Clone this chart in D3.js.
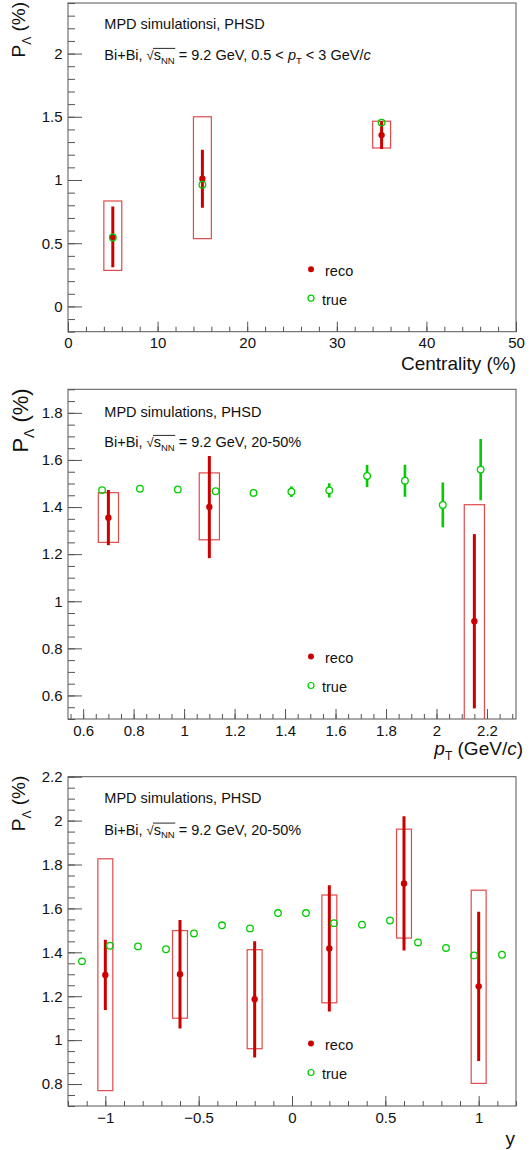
<!DOCTYPE html>
<html><head><meta charset="utf-8">
<script src="https://cdn.jsdelivr.net/npm/d3@7"></script>
<style>
body{margin:0;background:#fff}
svg{display:block}
text{font-family:"Liberation Sans",Arial,Helvetica,sans-serif;fill:#111;white-space:pre}
</style>
</head><body><svg id="c" width="532" height="1150"></svg>
<script>
// ---------- Panel 1: vs centrality ----------
const centX = [5, 15, 35];
const centRecoY = [0.55, 1.01, 1.355];
const centRecoErr = [0.24, 0.23, 0.11];
const centSysLo = [0.285, 0.536, 1.253];
const centSysHi = [0.834, 1.50, 1.465];
const centTrueY = [0.545, 0.963, 1.454];
const centTrueErr = [0.01, 0.012, 0.012];
const centXTicks = [0, 10, 20, 30, 40, 50];
const centYTicks = [0, 0.5, 1, 1.5, 2];

// ---------- Panel 2: vs pT ----------
const ptTrueX = [0.675, 0.825, 0.975, 1.125, 1.275, 1.425, 1.575, 1.725, 1.875, 2.025, 2.175];
const ptTrueY = [1.472, 1.478, 1.475, 1.467, 1.460, 1.465, 1.471, 1.532, 1.512, 1.409, 1.559];
const ptTrueErr = [0.004, 0.005, 0.006, 0.010, 0.015, 0.022, 0.030, 0.047, 0.068, 0.095, 0.130];
const ptRecoX = [0.70, 1.10, 2.15];
const ptRecoY = [1.355, 1.40, 0.915];
const ptRecoErr = [0.117, 0.217, 0.37];
const ptSysLo = [1.25, 1.261, 0.42];
const ptSysHi = [1.461, 1.545, 1.41];
const ptXTicks = [0.6, 0.8, 1, 1.2, 1.4, 1.6, 1.8, 2, 2.2];
const ptYTicks = [0.6, 0.8, 1, 1.2, 1.4, 1.6, 1.8];

// ---------- Panel 3: vs rapidity ----------
const yTrueX = [-1.125, -0.975, -0.825, -0.675, -0.525, -0.375, -0.225, -0.075, 0.075, 0.225, 0.375, 0.525, 0.675, 0.825, 0.975, 1.125];
const yTrueY = [1.359, 1.430, 1.427, 1.414, 1.486, 1.523, 1.509, 1.579, 1.579, 1.533, 1.526, 1.545, 1.445, 1.420, 1.386, 1.389];
const yTrueErr = [0.014, 0.014, 0.013, 0.013, 0.013, 0.013, 0.014, 0.014, 0.014, 0.014, 0.013, 0.013, 0.013, 0.013, 0.014, 0.014];
const yRecoX = [-1.0, -0.6, -0.2, 0.2, 0.6, 1.0];
const yRecoY = [1.297, 1.30, 1.186, 1.418, 1.714, 1.245];
const yRecoErr = [0.16, 0.247, 0.265, 0.287, 0.306, 0.34];
const ySysLo = [0.770, 1.100, 0.961, 1.170, 1.465, 0.803];
const ySysHi = [1.826, 1.499, 1.412, 1.661, 1.961, 1.683];
const yXTicks = [-1, -0.5, 0, 0.5, 1];
const yYTicks = [0.8, 1, 1.2, 1.4, 1.6, 1.8, 2, 2.2];

const legendLabels = [" reco", "true"];

const svg = d3.select("#c");
const L = 68, R = 516;
const RED = "#cc0000", BOX = "#e04a4a", GREEN = "#00cc00", AX = "#555";

function rich(parent, x, y, segs, anchor) {
  const g = parent.append("g");
  let cx = 0; const pos = [];
  segs.forEach(s => {
    const t = g.append("text").attr("x", cx).attr("y", s.dy || 0)
      .attr("font-size", s.size).text(s.t);
    if (s.italic) t.attr("font-style", "italic");
    const w = t.node().getComputedTextLength();
    pos.push([cx, cx + w]);
    cx += w;
  });
  const off = anchor === "end" ? -cx : 0;
  g.attr("transform", `translate(${x + off},${y})`);
  return { g, pos, width: cx };
}

function minorTicks(dom, step) {
  const a = Math.ceil(dom[0] / step - 1e-9), b = Math.floor(dom[1] / step + 1e-9);
  return d3.range(a, b + 1).map(i => +(i * step).toFixed(6));
}

const fmt = d => d3.format("~g")(d);

function panel(p, idx) {
  const x = d3.scaleLinear().domain(p.xDom).range([L, R]);
  const y = d3.scaleLinear().domain(p.yDom).range([p.bottom, p.top]);
  const g = svg.append("g");
  const cid = "clip" + idx;
  g.append("clipPath").attr("id", cid).append("rect")
    .attr("x", L).attr("y", p.top).attr("width", R - L).attr("height", p.bottom - p.top);

  const styleAxis = s => { s.select(".domain").remove(); s.selectAll("line").attr("stroke", AX); };
  g.append("g").attr("transform", `translate(${L},0)`)
    .call(d3.axisLeft(y).tickValues(minorTicks(p.yDom, p.yMinor)).tickSize(-7).tickFormat(""))
    .call(styleAxis);
  g.append("g").attr("transform", `translate(${L},0)`)
    .call(d3.axisLeft(y).tickValues(p.yTicks).tickSize(-14).tickPadding(5.5).tickFormat(fmt))
    .call(styleAxis)
    .attr("font-size", 15).attr("font-family", null)
    .selectAll("text").attr("fill", "#111");
  g.append("g").attr("transform", `translate(0,${p.bottom})`)
    .call(d3.axisBottom(x).tickValues(minorTicks(p.xDom, p.xMinor)).tickSize(-5).tickFormat(""))
    .call(styleAxis);
  g.append("g").attr("transform", `translate(0,${p.bottom})`)
    .call(d3.axisBottom(x).tickValues(p.xTicks).tickSize(-10).tickPadding(6).tickFormat(fmt))
    .call(styleAxis)
    .attr("font-size", 15).attr("font-family", null)
    .selectAll("text").attr("fill", "#111");

  g.append("rect").attr("x", L).attr("y", p.top).attr("width", R - L).attr("height", p.bottom - p.top)
    .attr("fill", "none").attr("stroke", AX).attr("stroke-width", 1);

  const d = g.append("g").attr("clip-path", `url(#${cid})`);
  d.selectAll(".box").data(p.recoX).join("rect")
    .attr("x", (v) => x(v - p.boxHalf))
    .attr("width", (v) => x(v + p.boxHalf) - x(v - p.boxHalf))
    .attr("y", (v, i) => y(p.sysHi[i]))
    .attr("height", (v, i) => y(p.sysLo[i]) - y(p.sysHi[i]))
    .attr("fill", "none").attr("stroke", BOX).attr("stroke-width", 1.2);
  d.selectAll(".rerr").data(p.recoX).join("line")
    .attr("x1", v => x(v)).attr("x2", v => x(v))
    .attr("y1", (v, i) => y(p.recoY[i] + p.recoErr[i]))
    .attr("y2", (v, i) => y(p.recoY[i] - p.recoErr[i]))
    .attr("stroke", RED).attr("stroke-width", 3);
  d.selectAll(".rpt").data(p.recoX).join("circle")
    .attr("cx", v => x(v)).attr("cy", (v, i) => y(p.recoY[i])).attr("r", 3.2)
    .attr("fill", RED);
  const rT = 3.3;
  p.trueX.forEach((v, i) => {
    const cx = x(v), cy = y(p.trueY[i]);
    const yt = y(p.trueY[i] + p.trueErr[i]), yb = y(p.trueY[i] - p.trueErr[i]);
    if (cy - yt > rT) d.append("line").attr("x1", cx).attr("x2", cx).attr("y1", yt).attr("y2", cy - rT)
      .attr("stroke", GREEN).attr("stroke-width", 2.6);
    if (yb - cy > rT) d.append("line").attr("x1", cx).attr("x2", cx).attr("y1", cy + rT).attr("y2", yb)
      .attr("stroke", GREEN).attr("stroke-width", 2.6);
  });
  d.selectAll(".tpt").data(p.trueX).join("circle")
    .attr("cx", v => x(v)).attr("cy", (v, i) => y(p.trueY[i])).attr("r", rT)
    .attr("fill", "none").attr("stroke", GREEN).attr("stroke-width", 1.3);

  const ly1 = p.bottom - 62.5, ly2 = p.bottom - 33.5;
  g.append("circle").attr("cx", 311).attr("cy", ly1).attr("r", 3).attr("fill", RED);
  g.append("text").attr("x", 321).attr("y", ly1 + 6.3).attr("font-size", 14.5).text(legendLabels[0]);
  g.append("circle").attr("cx", 311).attr("cy", ly2).attr("r", 3).attr("fill", "none")
    .attr("stroke", GREEN).attr("stroke-width", 1.2);
  g.append("text").attr("x", 322).attr("y", ly2 + 6.5).attr("font-size", 14.5).text(legendLabels[1]);

  rich(g, 104.3, p.top + p.t1, [{ t: p.title, size: 14.5 }]);
  const segs = [{ t: "Bi+Bi, ", size: 14.5 }, { t: "\u221A", size: 13 }, { t: "s", size: 14.5 },
    { t: "NN", size: 9.5, dy: 3.5 }].concat(p.line2);
  const r2 = rich(g, 104.3, p.top + p.t2, segs);
  r2.g.append("line").attr("x1", r2.pos[1][1] - 0.8).attr("x2", r2.pos[3][1] + 0.5)
    .attr("y1", -11.6).attr("y2", -11.6).attr("stroke", "#111").attr("stroke-width", 0.9);

  const yt = g.append("g").attr("transform", `translate(${p.yTitleX},${p.top - 1}) rotate(-90)`);
  const fs = p.yTitleSize;
  rich(yt, 0, 0, [{ t: "P", size: fs }, { t: "\u039B", size: fs * 0.63, dy: fs * 0.29 }, { t: " (%)", size: fs }], "end");

  rich(g, p.xTitleRight, p.xTitleY, p.xTitle, "end");
}

const panels = [
  { top: 3, bottom: 331.7, xDom: [0, 50], yDom: [-0.2, 2.4], xTicks: centXTicks, yTicks: centYTicks,
    xMinor: 2, yMinor: 0.1, boxHalf: 1,
    recoX: centX, recoY: centRecoY, recoErr: centRecoErr, sysLo: centSysLo, sysHi: centSysHi,
    trueX: centX, trueY: centTrueY, trueErr: centTrueErr,
    title: "MPD simulationsi, PHSD", t1: 26.3, t2: 57,
    line2: [{ t: " = 9.2 GeV, 0.5 < ", size: 14.5 }, { t: "p", size: 14.5, italic: true },
      { t: "T", size: 9.5, dy: 4 }, { t: " < 3 GeV/", size: 14.5 }, { t: "c", size: 14.5, italic: true }],
    yTitleSize: 19, yTitleX: 25,
    xTitle: [{ t: "Centrality (%)", size: 19 }], xTitleRight: 516, xTitleY: 370 },
  { top: 389.3, bottom: 719, xDom: [0.54, 2.315], yDom: [0.5, 1.9], xTicks: ptXTicks, yTicks: ptYTicks,
    xMinor: 0.05, yMinor: 0.05, boxHalf: 0.04,
    recoX: ptRecoX, recoY: ptRecoY, recoErr: ptRecoErr, sysLo: ptSysLo, sysHi: ptSysHi,
    trueX: ptTrueX, trueY: ptTrueY, trueErr: ptTrueErr,
    title: "MPD simulations, PHSD", t1: 27.4, t2: 57.7,
    line2: [{ t: " = 9.2 GeV, 20-50%", size: 14.5 }],
    yTitleSize: 22, yTitleX: 28,
    xTitle: [{ t: "p", size: 19, italic: true }, { t: "T", size: 12, dy: 5 }, { t: " (GeV/", size: 19 },
      { t: "c", size: 19, italic: true }, { t: ")", size: 19 }], xTitleRight: 523, xTitleY: 755 },
  { top: 776.7, bottom: 1106, xDom: [-1.2, 1.2], yDom: [0.7, 2.2], xTicks: yXTicks, yTicks: yYTicks,
    xMinor: 0.1, yMinor: 0.05, boxHalf: 0.04,
    recoX: yRecoX, recoY: yRecoY, recoErr: yRecoErr, sysLo: ySysLo, sysHi: ySysHi,
    trueX: yTrueX, trueY: yTrueY, trueErr: yTrueErr,
    title: "MPD simulations, PHSD", t1: 26.3, t2: 58,
    line2: [{ t: " = 9.2 GeV, 20-50%", size: 14.5 }],
    yTitleSize: 19, yTitleX: 25,
    xTitle: [{ t: "y", size: 19 }], xTitleRight: 515, xTitleY: 1145 }
];

panels.forEach(panel);
</script></body></html>
